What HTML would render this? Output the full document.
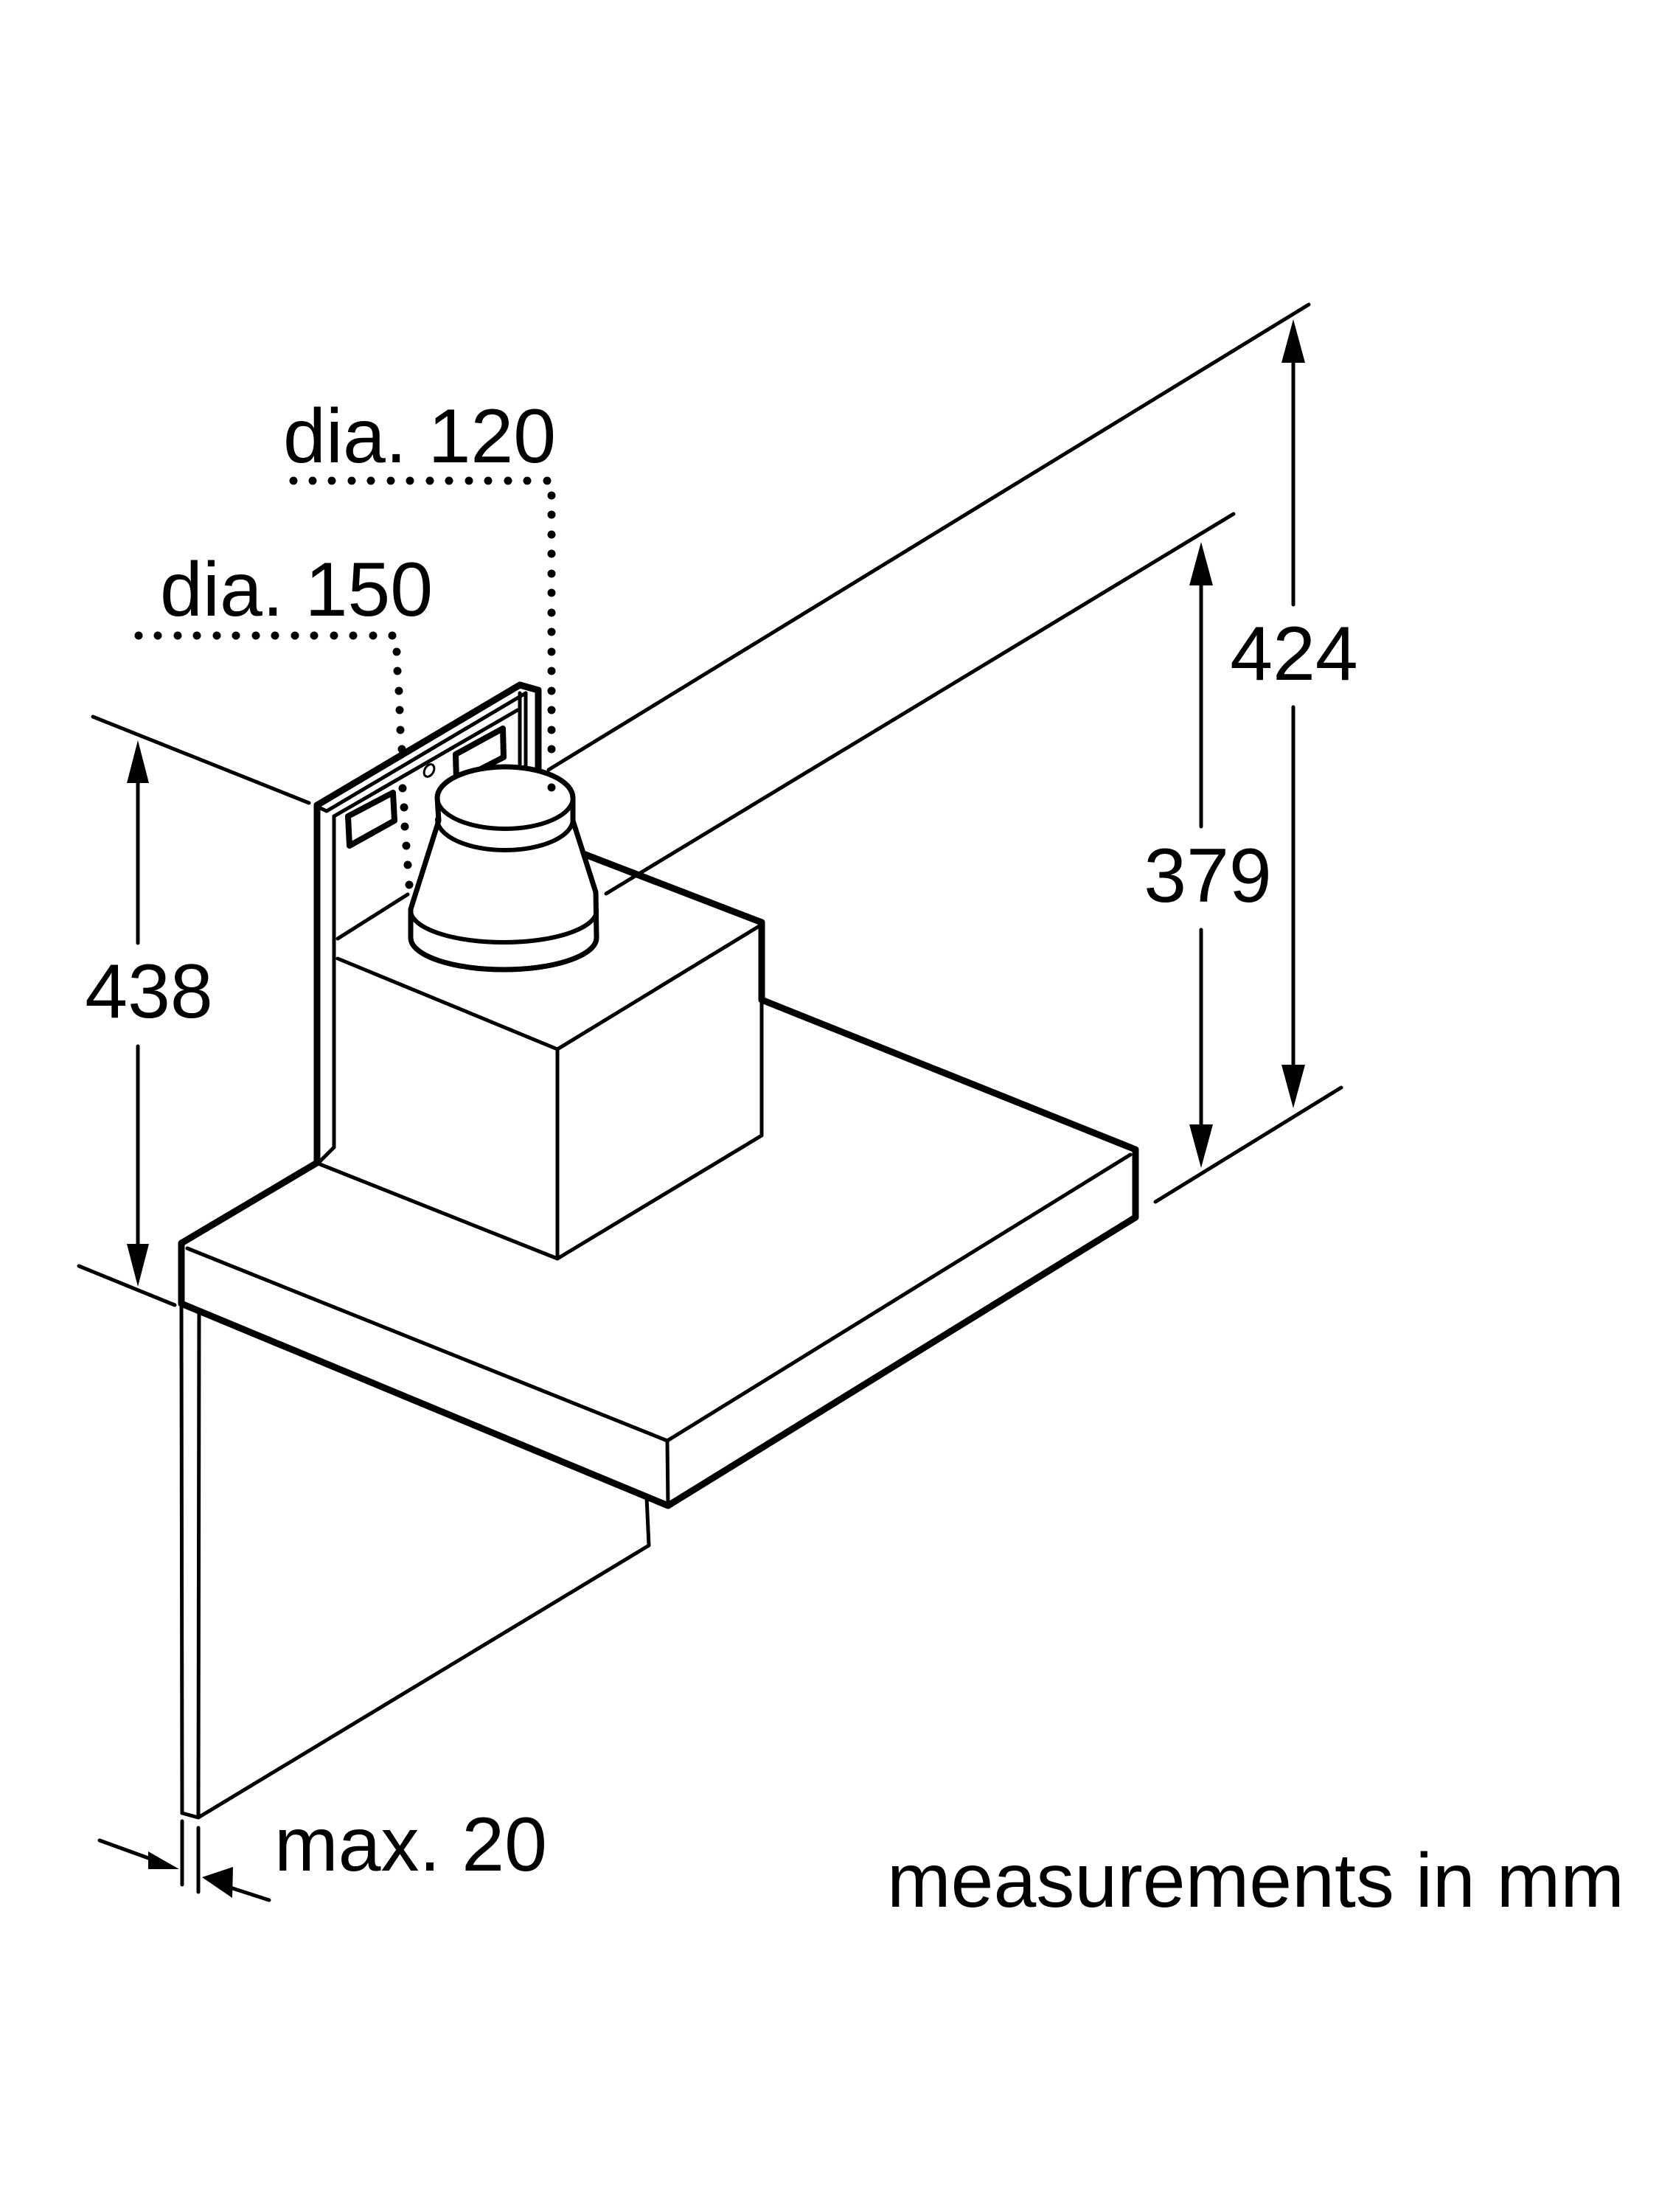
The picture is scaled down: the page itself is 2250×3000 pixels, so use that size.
<!DOCTYPE html>
<html><head><meta charset="utf-8"><style>
html,body{margin:0;padding:0;background:#fff}
svg{display:block}
text{font-family:"Liberation Sans",Arial,sans-serif;fill:#000}
</style></head><body>
<svg width="2250" height="3000" viewBox="0 0 2250 3000" xmlns="http://www.w3.org/2000/svg">
<g stroke="#000" fill="none" stroke-linecap="round" stroke-linejoin="round">
<line x1="126" y1="972" x2="419" y2="1089" stroke-width="5"/>
<line x1="107" y1="1717" x2="237" y2="1770" stroke-width="5"/>
<line x1="744" y1="1044" x2="1775" y2="413" stroke-width="5"/>
<line x1="822" y1="1212" x2="1673" y2="697" stroke-width="5"/>
<line x1="1567" y1="1630" x2="1819" y2="1475" stroke-width="5"/>

<line x1="187" y1="1050" x2="187" y2="1279" stroke-width="5"/>
<line x1="187" y1="1419" x2="187" y2="1700" stroke-width="5"/>
<line x1="1754" y1="480" x2="1754" y2="820" stroke-width="5"/>
<line x1="1754" y1="959" x2="1754" y2="1460" stroke-width="5"/>
<line x1="1629" y1="780" x2="1629" y2="1121" stroke-width="5"/>
<line x1="1629" y1="1261" x2="1629" y2="1540" stroke-width="5"/>

<line x1="430" y1="1092" x2="430" y2="1577" stroke-width="9"/>
<polyline points="430,1092 705,929 730,936 730,1043" stroke-width="9"/>
<polyline points="443,1100 713,940" stroke-width="5"/>
<line x1="443" y1="1100" x2="430" y2="1094" stroke-width="5"/>
<polyline points="453,1107 702,963" stroke-width="5"/>
<line x1="453" y1="1107" x2="453" y2="1556" stroke-width="5"/>
<line x1="453" y1="1556" x2="434" y2="1575" stroke-width="5"/>
<line x1="705" y1="940" x2="705" y2="1037" stroke-width="5"/>
<line x1="713" y1="940" x2="713" y2="1040" stroke-width="5"/>
<polygon points="472,1107 533,1075 535,1113 474,1147" stroke-width="8"/>
<polygon points="618,1023 682,988 683,1027 619,1060" stroke-width="8"/>
<ellipse cx="582" cy="1045" rx="6" ry="9" transform="rotate(30 582 1045)" stroke-width="3"/>

<line x1="458" y1="1273" x2="553" y2="1213" stroke-width="5"/>
<line x1="458" y1="1300" x2="756" y2="1423" stroke-width="5"/>
<line x1="756" y1="1423" x2="1033" y2="1254" stroke-width="5"/>
<line x1="756" y1="1423" x2="756" y2="1707" stroke-width="5"/>
<line x1="434" y1="1579" x2="756" y2="1707" stroke-width="5"/>
<line x1="756" y1="1707" x2="1033" y2="1540" stroke-width="5"/>
<line x1="1033" y1="1356" x2="1033" y2="1540" stroke-width="5"/>
<line x1="786" y1="1156" x2="1033" y2="1251" stroke-width="9"/>
<polyline points="1033,1251 1033,1356 1540,1559 1540,1651 906,2042" stroke-width="9"/>

<line x1="1533" y1="1566" x2="905" y2="1954" stroke-width="5"/>
<line x1="905" y1="1954" x2="906" y2="2042" stroke-width="5"/>
<line x1="254" y1="1693" x2="905" y2="1954" stroke-width="5"/>
<polyline points="430,1577 246,1686 246,1768 906,2042" stroke-width="9"/>

<line x1="246" y1="1768" x2="247" y2="2459" stroke-width="5"/>
<line x1="270" y1="1778" x2="269" y2="2465" stroke-width="5"/>
<line x1="247" y1="2459" x2="269" y2="2465" stroke-width="5"/>
<polyline points="269,2465 880,2096 877,2031" stroke-width="5"/>

<path d="M593,1082 A92,42 0 0 1 777,1082 L777,1113 L808,1210 L809,1272 A126,43 0 0 1 557,1272 L557,1233 L595,1113 Z" fill="#fff" stroke-width="7"/>
<path d="M593,1082 A92,42 0 0 0 777,1082" stroke-width="6"/>
<path d="M593,1111 A92,42 0 0 0 777,1111" stroke-width="6"/>
<path d="M557,1235 A126,43 0 0 0 809,1235" stroke-width="6"/>

<line x1="247" y1="2470" x2="247" y2="2556" stroke-width="5"/>
<line x1="269" y1="2479" x2="269" y2="2566" stroke-width="5"/>
<line x1="135" y1="2496" x2="215" y2="2525" stroke-width="5"/>
<line x1="300" y1="2556" x2="365" y2="2577" stroke-width="5"/>
</g>

<g fill="#000">
<polygon points="187,1004 172,1062 202,1062"/>
<polygon points="187,1745 172,1687 202,1687"/>
<polygon points="1754,433 1738,492 1770,492"/>
<polygon points="1754,1503 1738,1444 1770,1444"/>
<polygon points="1629,735 1613,794 1645,794"/>
<polygon points="1629,1584 1613,1525 1645,1525"/>
<polygon points="243,2535 201,2535 201,2511"/>
<polygon points="274,2546 316,2532 315,2574"/>
</g>

<g fill="#000">
<circle cx="398" cy="652" r="5.5"/><circle cx="424" cy="652" r="5.5"/><circle cx="450" cy="652" r="5.5"/><circle cx="477" cy="652" r="5.5"/><circle cx="503" cy="652" r="5.5"/><circle cx="530" cy="652" r="5.5"/><circle cx="556" cy="652" r="5.5"/><circle cx="583" cy="652" r="5.5"/><circle cx="609" cy="652" r="5.5"/><circle cx="636" cy="652" r="5.5"/><circle cx="662" cy="652" r="5.5"/><circle cx="689" cy="652" r="5.5"/><circle cx="715" cy="652" r="5.5"/><circle cx="742" cy="652" r="5.5"/>
<circle cx="748" cy="672" r="5.5"/><circle cx="748" cy="698" r="5.5"/><circle cx="748" cy="725" r="5.5"/><circle cx="748" cy="751" r="5.5"/><circle cx="748" cy="778" r="5.5"/><circle cx="748" cy="804" r="5.5"/><circle cx="748" cy="831" r="5.5"/><circle cx="748" cy="857" r="5.5"/><circle cx="748" cy="884" r="5.5"/><circle cx="748" cy="910" r="5.5"/><circle cx="748" cy="937" r="5.5"/><circle cx="748" cy="963" r="5.5"/><circle cx="748" cy="990" r="5.5"/><circle cx="748" cy="1016" r="5.5"/><circle cx="748" cy="1068" r="5.5"/>
<circle cx="188" cy="862" r="5.5"/><circle cx="214" cy="862" r="5.5"/><circle cx="241" cy="862" r="5.5"/><circle cx="267" cy="862" r="5.5"/><circle cx="294" cy="862" r="5.5"/><circle cx="320" cy="862" r="5.5"/><circle cx="347" cy="862" r="5.5"/><circle cx="373" cy="862" r="5.5"/><circle cx="400" cy="862" r="5.5"/><circle cx="426" cy="862" r="5.5"/><circle cx="453" cy="862" r="5.5"/><circle cx="479" cy="862" r="5.5"/><circle cx="506" cy="862" r="5.5"/><circle cx="532" cy="862" r="5.5"/>
<circle cx="538" cy="884" r="5.5"/><circle cx="539" cy="910" r="5.5"/><circle cx="541" cy="937" r="5.5"/><circle cx="542" cy="963" r="5.5"/><circle cx="543" cy="990" r="5.5"/><circle cx="545" cy="1016" r="5.5"/><circle cx="546" cy="1069" r="5.5"/><circle cx="548" cy="1095" r="5.5"/><circle cx="549" cy="1121" r="5.5"/><circle cx="551" cy="1147" r="5.5"/><circle cx="553" cy="1173" r="5.5"/><circle cx="555" cy="1200" r="5.5"/>
</g>

<g font-size="104">
<text x="384" y="627">dia. 120</text>
<text x="217" y="835">dia. 150</text>
<text x="202" y="1380" text-anchor="middle">438</text>
<text x="1755" y="922" text-anchor="middle">424</text>
<text x="1638" y="1223" text-anchor="middle">379</text>
<text x="372" y="2537">max. 20</text>
<text x="1203" y="2586">measurements in mm</text>
</g>
</svg>
</body></html>
